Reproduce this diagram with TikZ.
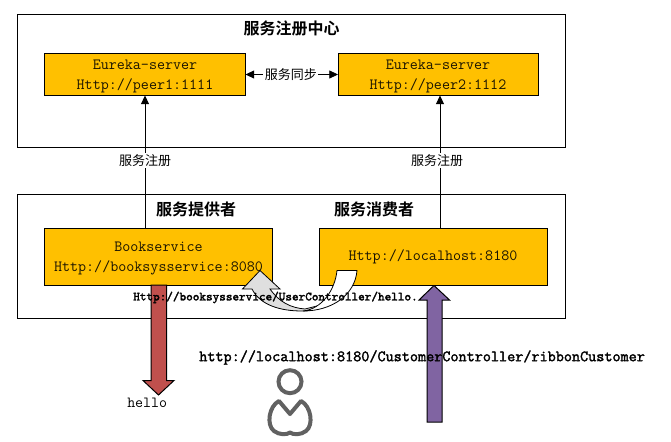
\documentclass[tikz,border=0pt]{standalone}
\usepackage{fontspec}
\newfontfamily\cjk{Noto Sans CJK SC}
\newfontfamily\cjkb{Noto Sans CJK SC Bold}
\newfontfamily\monob[FakeBold=2]{Latin Modern Mono}
\usetikzlibrary{arrows.meta,calc}
\definecolor{gold1}{HTML}{FFC000}
\definecolor{redarrow}{HTML}{C0504D}
\definecolor{purplearrow}{HTML}{8064A2}
\newcommand{\gtop}{\rule{0pt}{10pt}}
\tikzset{
  x=0.75pt,y=-0.75pt,
  outerbox/.style={draw=black,line width=0.75pt,fill=none,outer sep=0pt},
  gold/.style={draw=black,line width=0.75pt,fill=gold1,outer sep=0pt,align=center,font=\ttfamily\fontsize{11.7}{15.5}\selectfont,text=black!90!gold1,inner sep=0pt},
  conn/.style={draw=black,line width=0.6pt,-{Triangle[length=6.5pt,width=6pt]}},
  lbl/.style={fill=white,font=\cjk\fontsize{9.75}{12}\selectfont,inner sep=1pt},
  title/.style={font=\cjkb\fontsize{12}{14}\selectfont},
  boldtext/.style={font=\monob\fontsize{#1}{12}\selectfont},
  block/.style={draw=black,line width=0.75pt},
}
\begin{document}
\begin{tikzpicture}
\useasboundingbox (0,0) rectangle (671,442);
\node[outerbox,minimum width=411pt,minimum height=99.75pt,anchor=north west] (top) at (17.5,15) {};
\node[outerbox,minimum width=411pt,minimum height=92.25pt,anchor=north west] (bottom) at (17.5,195) {};
\node[title] (t1) at (291.5,28) {服务注册中心};
\node[title] (t2) at (196,209) {服务提供者};
\node[title] (t3) at (374,209) {服务消费者};
\node[gold,minimum width=150.75pt,minimum height=31.5pt,anchor=north west] (e1) at (44.5,53.5) {\gtop Eureka-server\\Http://peer1:1111};
\node[gold,minimum width=150pt,minimum height=31.5pt,anchor=north west] (e2) at (338,53.5) {\gtop Eureka-server\\Http://peer2:1112};
\node[gold,minimum width=171pt,minimum height=42.75pt,anchor=north west] (b) at (44.5,228) {\gtop Bookservice\\Http://booksysservice:8080};
\node[gold,minimum width=171pt,minimum height=42.75pt,anchor=north west] (c) at (319,228) {Http://localhost:8180};
\draw[conn] (b.north -| 145,0) -- (e1.south -| 145,0) node[lbl,pos=0.51] (l1) {服务注册};
\draw[conn] (c.north -| 440,0) -- (e2.south -| 440,0) node[lbl,pos=0.51,xshift=-2.25pt] (l2) {服务注册};
\draw[draw=black,line width=0.6pt,{Triangle[length=6.5pt,width=6pt]}-{Triangle[length=6.5pt,width=6pt]}] (e1.east) -- (e2.west) node[lbl,pos=0.49] (l3) {服务同步};
% red and purple block arrows
\filldraw[block,fill=redarrow] (151,285) -- (166.5,285) -- (166.5,380.5) -- (174,380.5) -- (158.5,395) -- (143,380.5) -- (151,380.5) -- cycle;
\filldraw[block,fill=purplearrow] (427,422) -- (442,422) -- (442,300) -- (449.5,300) -- (434,285.5) -- (419,300) -- (427,300) -- cycle;
% curved arrow
\filldraw[block,line width=0.6pt,fill=gray!25] (260,270.5) -- (280,289) -- (270,289) .. controls (279,302) and (291,308) .. (305,309) -- (325,304) .. controls (315,310) and (308,311) .. (302,311) .. controls (280,311) and (260,305) .. (252,289) -- (242.5,289) -- cycle;
\filldraw[block,line width=0.6pt,fill=white] (337,270.5) -- (357,270.5) .. controls (355,295) and (332,311) .. (303,311) .. controls (322,309) and (335,290) .. (337,270.5) -- cycle;
\node[boldtext=9.45,anchor=west,inner sep=0pt] (u1) at (133,297.5) {Http://booksysservice/UserController/hello.};
\node[boldtext=11.8,anchor=west,inner sep=0pt] (u2) at (199,357.5) {http://localhost:8180/CustomerController/ribbonCustomer};
\node[font=\ttfamily\fontsize{11.6}{12}\selectfont,anchor=west,inner sep=0pt] (h) at (127,403) {hello};
% person icon
\draw[draw=black!62,line width=3pt] (290,381.7) circle (11.5);
\draw[draw=black!62,line width=3pt,line join=round] (290,414) -- (279,401) .. controls (269,406) and (266,425) .. (274,431) .. controls (279,435) and (287,435) .. (290,432.5) .. controls (293,435) and (301,435) .. (306,431) .. controls (314,425) and (311,406) .. (301,401) -- cycle;
\end{tikzpicture}
\end{document}
